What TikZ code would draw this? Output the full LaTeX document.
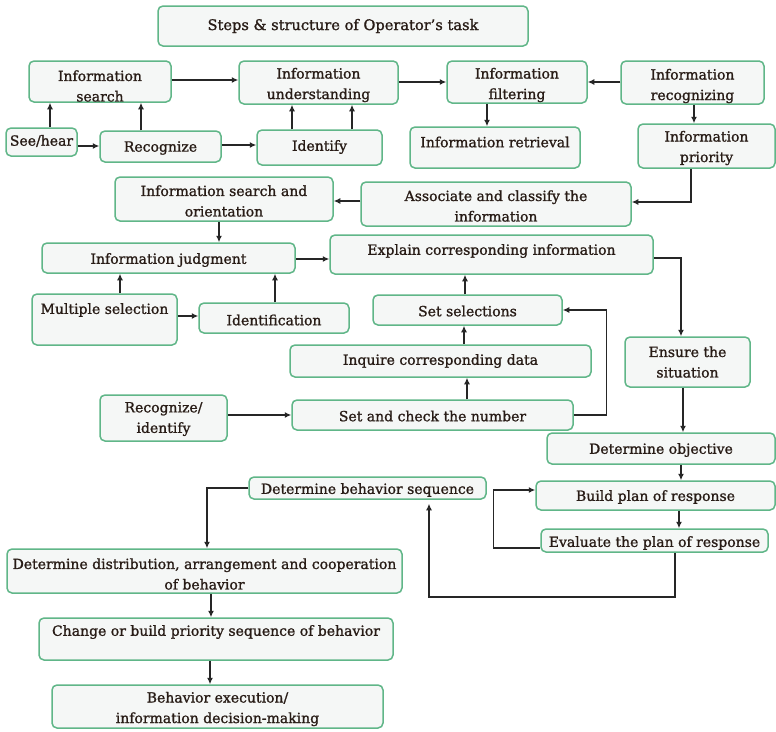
\documentclass[tikz,border=0pt]{standalone}
\usepackage{fontspec}
\setmainfont{DejaVu Serif}[FakeBold=1.2]
\usetikzlibrary{arrows.meta}

\definecolor{boxline}{RGB}{96,182,136}
\definecolor{boxfill}{RGB}{245,247,246}
\definecolor{ink}{RGB}{40,28,22}

\tikzset{
  stepbox/.style={draw=boxline, fill=boxfill, line width=1.5pt, rounded corners=5pt, inner sep=0pt},
  steptext/.style={text=ink, align=center, inner sep=0pt, font=\fontsize{14}{20.5}\selectfont},
  arr/.style={draw=black!85, line width=1.3pt, -{Latex[length=6.5pt,width=6pt]}},
}

% \flowbox{name}{x1}{y1}{x2}{y2}{text centre y}{text}
\newcommand\flowbox[7]{%
  \node[stepbox, minimum width={(#4-#2)*1pt}, minimum height={(#5-#3)*1pt}]
    (#1) at ({(#2+#4)/2},{(#3+#5)/2}) {};
  \node[steptext] (#1-t) at ({(#2+#4)/2},#6) {#7};
}

\begin{document}
\begin{tikzpicture}[x=1pt,y=-1pt]
\useasboundingbox[fill=white] (0,0) rectangle (776,731);

% boxes
\flowbox{title}{158}{6}{528}{46}{26}{\fontsize{14.6}{17}\selectfont Steps \& structure of Operator’s task}
\flowbox{isearch}{29}{61}{171}{102}{86}{Information\\search}
\flowbox{iunder}{239}{61}{398}{104}{85}{Information\\understanding}
\flowbox{ifilter}{447}{61}{587}{103}{85}{Information\\filtering}
\flowbox{irecog}{621}{61}{764}{104}{86}{Information\\recognizing}
\flowbox{seehear}{6}{128}{77}{156}{141}{See/hear}
\flowbox{recog}{100}{131}{221}{162}{148}{Recognize}
\flowbox{identify}{257}{130}{382}{165}{147}{Identify}
\flowbox{iretr}{410}{127}{580}{168}{142}{Information retrieval}
\flowbox{iprior}{638}{124}{775}{168}{148}{Information\\priority}
\flowbox{iso}{115}{177}{333}{221}{201}{Information search and\\orientation}
\flowbox{assoc}{361}{182}{631}{226}{206}{Associate and classify the\\information}
\flowbox{ijudg}{42}{243}{295}{273}{260}{Information judgment}
\flowbox{explain}{330}{235}{653}{274}{251}{Explain corresponding information}
\flowbox{multi}{32}{294}{177}{345}{310}{Multiple selection}
\flowbox{identif}{199}{303}{349}{333}{320}{Identification}
\flowbox{setsel}{373}{295}{562}{325}{311}{Set selections}
\flowbox{inquire}{290}{345}{591}{377}{361}{Inquire corresponding data}
\flowbox{ensure}{625}{337}{750}{387}{362}{Ensure the\\situation}
\flowbox{recid}{100}{395}{227}{441}{419}{Recognize/\\identify}
\flowbox{setcheck}{292}{400}{573}{430}{416}{Set and check the number}
\flowbox{detobj}{547}{433}{775}{464}{450}{Determine objective}
\flowbox{build}{536}{481}{775}{510}{497}{Build plan of response}
\flowbox{eval}{541}{529}{768}{552}{543}{Evaluate the plan of response}
\flowbox{dbs}{249}{477}{486}{499}{490}{Determine behavior sequence}
\flowbox{ddist}{7}{549}{402}{593}{574}{Determine distribution, arrangement and cooperation\\of behavior}
\flowbox{change}{39}{618}{393}{660}{632}{Change or build priority sequence of behavior}
\flowbox{exec}{52}{685}{383}{728}{709}{Behavior execution/\\information decision-making}

% connectors
\draw[arr] (50,0 |- seehear.north) -- (50,0 |- isearch.south);
\draw[arr] (141,0 |- recog.north) -- (141,0 |- isearch.south);
\draw[arr] (0,146 -| seehear.east) -- (0,146 -| recog.west);
\draw[arr] (0,145 -| recog.east) -- (0,145 -| identify.west);
\draw[arr] (292,0 |- identify.north) -- (292,0 |- iunder.south);
\draw[arr] (352,0 |- identify.north) -- (352,0 |- iunder.south);
\draw[arr] (0,80 -| isearch.east) -- (0,80 -| iunder.west);
\draw[arr] (0,82 -| iunder.east) -- (0,82 -| ifilter.west);
\draw[arr] (0,82 -| irecog.west) -- (0,82 -| ifilter.east);
\draw[arr] (487,0 |- ifilter.south) -- (487,0 |- iretr.north);
\draw[arr] (694,0 |- irecog.south) -- (694,0 |- iprior.north);
\draw[arr] (691,0 |- iprior.south) |- (0,202 -| assoc.east);
\draw[arr] (0,201 -| assoc.west) -- (0,201 -| iso.east);
\draw[arr] (219,0 |- iso.south) -- (219,0 |- ijudg.north);
\draw[arr] (0,259 -| ijudg.east) -- (0,259 -| explain.west);
\draw[arr] (0,258 -| explain.east) -| (681,0 |- ensure.north);
\draw[arr] (120,0 |- multi.north) -- (120,0 |- ijudg.south);
\draw[arr] (0,316 -| multi.east) -- (0,316 -| identif.west);
\draw[arr] (275,0 |- identif.north) -- (275,0 |- ijudg.south);
\draw[arr] (465,0 |- setsel.north) -- (465,0 |- explain.south);
\draw[arr] (464,0 |- inquire.north) -- (464,0 |- setsel.south);
\draw[arr] (467,0 |- setcheck.north) -- (467,0 |- inquire.south);
\draw[arr] (0,415 -| recid.east) -- (0,415 -| setcheck.west);
\draw[arr] (0,415 -| setcheck.east) -- ++(33,0) |- (0,310 -| setsel.east);
\draw[arr] (683,0 |- ensure.south) -- (683,0 |- detobj.north);
\draw[arr] (681,0 |- detobj.south) -- (681,0 |- build.north);
\draw[arr] (679,0 |- build.south) -- (679,0 |- eval.north);
\draw[arr] (0,548 -| eval.west) -- ++(-47,0) |- (0,490 -| build.west);
\draw[arr, shorten >=4pt] (675,0 |- eval.south) -- (675,597) -| (429,0 |- dbs.south);
\draw[arr] (dbs.west) -| (207,0 |- ddist.north);
\draw[arr] (211,0 |- ddist.south) -- (211,0 |- change.north);
\draw[arr] (210,0 |- change.south) -- (210,0 |- exec.north);
\end{tikzpicture}
\end{document}
